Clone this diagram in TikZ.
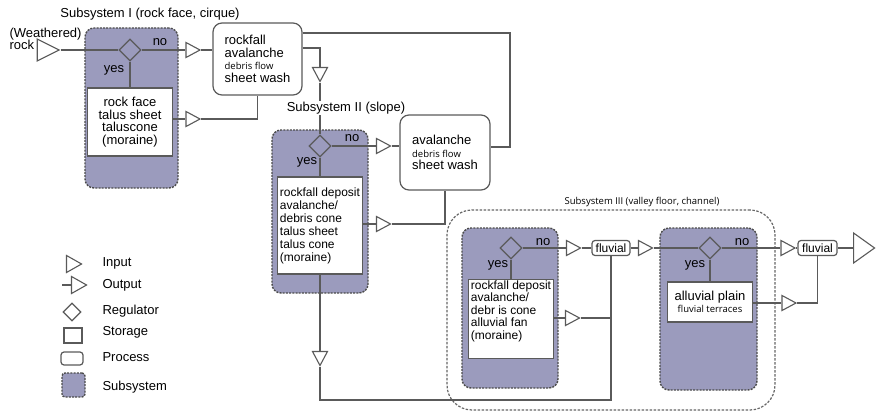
\documentclass[tikz,border=0pt]{standalone}
\usepackage{fontspec}
\setmainfont{Liberation Sans}
\newfontfamily\opensans{Open Sans}
\newcommand\minorfont{\opensans\fontsize{9.5}{11}\selectfont}
\usetikzlibrary{shapes.geometric}
\definecolor{subfill}{RGB}{155,155,189}
\definecolor{linegray}{RGB}{90,90,90}

\begin{document}
\begin{tikzpicture}[x=1pt, y=-1pt,
  font=\fontsize{13}{12.5}\selectfont,
  conn/.style={draw=linegray, line width=1.3pt},
  subsys/.style={draw=black!70, fill=subfill, dash pattern=on 2pt off 1.2pt, line width=1.4pt, rounded corners=9pt, inner sep=0},
  outer/.style={draw=black!60, dash pattern=on 2.5pt off 1.5pt, line width=1.2pt, rounded corners=25pt, inner sep=0},
  storage/.style={draw=linegray, fill=white, line width=1.2pt, inner sep=1pt},
  process/.style={draw=linegray, fill=white, line width=1.2pt, rounded corners=9pt, inner sep=2pt},
  regulator/.style={diamond, draw=linegray, line width=1.2pt, minimum width=22, minimum height=22, inner sep=0},
  port/.style={isosceles triangle, isosceles triangle stretches, draw=linegray, fill=white, line width=1.1pt, inner sep=0, minimum width=15, minimum height=14}
]
\useasboundingbox (0,0) rectangle (876,412);

\node[subsys, minimum width=93, minimum height=160] (sub1) at (131.5,108) {};
\node[subsys, minimum width=96, minimum height=163] (sub2) at (320,211.5) {};
\node[outer, minimum width=328, minimum height=200] (sub3) at (611,310) {};
\node[subsys, minimum width=96, minimum height=160] (sub3a) at (510,308) {};
\node[subsys, minimum width=97, minimum height=162] (sub3b) at (708.5,309) {};

\node (title1) at (150,14) {Subsystem I (rock face, cirque)};
\node[fill=white, inner sep=1pt] (title2) at (346,108) {Subsystem II (slope)};
\node[font=\minorfont] (title3) at (642,202) {Subsystem III (valley floor, channel)};

% subsystem I
\node[align=left, anchor=west] (rocklbl) at (6,39) {(Weathered)\\rock};
\node[port, minimum width=22, minimum height=22] (in1) at (44,50) {};
\node[regulator] (reg1) at (130,50) {};
\node[port] (out1a) at (190.5,50) {};
\node[process, minimum width=89, minimum height=72, align=left] (proc1) at (257.5,59)
  {rockfall\\avalanche\\{\minorfont debris flow}\\sheet wash};
\node[storage, minimum width=85, minimum height=68, align=center] (stor1) at (130,122)
  {rock face\\talus sheet\\taluscone\\(moraine)};
\node[port] (out1b) at (190.5,119) {};
\node (no1) at (160,42) {no};
\node (yes1) at (114,70) {yes};
\node[port, rotate=-90] (in2) at (320,72) {};
\coordinate (bend1) at (510,33);
\coordinate (bend2) at (510,147);
\coordinate (bend3) at (320,48);

% subsystem II
\node[regulator] (reg2) at (320,146) {};
\node[port] (out2a) at (381,146) {};
\node[process, minimum width=90, minimum height=75, align=left] (proc2) at (445,152.5)
  {avalanche\\{\minorfont debris flow}\\sheet wash};
\node[storage, minimum width=85, minimum height=97, align=left, font=\fontsize{12}{13}\selectfont] (stor2) at (320,225.5)
  {rockfall deposit\\avalanche/\\debris cone\\talus sheet\\talus cone\\(moraine)};
\node[port] (out2b) at (381,224) {};
\node[port, rotate=-90] (in3) at (320,356) {};
\node (no2) at (352,138) {no};
\node (yes2) at (307,162) {yes};
\coordinate (bend4) at (611,400);

% subsystem III
\node[regulator] (reg3) at (511,248) {};
\node[port] (out3a) at (571,248) {};
\node[process, minimum width=38, minimum height=15, inner sep=1pt, rounded corners=3pt, font=\fontsize{12}{12}\selectfont] (fluv1) at (611,248) {fluvial};
\node[storage, minimum width=85, text depth=18pt, align=left, anchor=north, font=\fontsize{12}{12.5}\selectfont] (stor3) at (511,279)
  {rockfall deposit\\avalanche/\\debr is cone\\alluvial fan\\(moraine)};
\node[port] (out3b) at (570,318) {};
\node (no3) at (543,242) {no};
\node (yes3) at (498,265) {yes};

\node[port] (out4a) at (643,248) {};
\node[regulator] (reg4) at (710,248) {};
\node[storage, minimum width=85, minimum height=40, align=center] (stor4) at (710,302)
  {alluvial plain\\{\minorfont fluvial terraces}};
\node[port] (out4b) at (785.5,248) {};
\node[process, minimum width=39, minimum height=15, inner sep=1pt, rounded corners=3pt, font=\fontsize{12}{12}\selectfont] (fluv2) at (817.5,248) {fluvial};
\node[port] (out4c) at (786.5,303) {};
\node[port, minimum width=30, minimum height=21, anchor=west] (out5) at (853,248) {};
\node (no4) at (742,242) {no};
\node (yes4) at (695,265) {yes};

% legend
\node[port, minimum width=17, minimum height=15] (leginp) at (71.5,264) {};
\node[port, minimum width=17, minimum height=15] (legout) at (76.5,285) {};
\coordinate (legstub) at (62,285);
\node[regulator, minimum width=18, minimum height=18] (legreg) at (72,312) {};
\node[storage, minimum width=18, minimum height=15] (legsto) at (73,335.5) {};
\node[process, minimum width=22, minimum height=13, rounded corners=3pt] (legpro) at (72,358.5) {};
\node[subsys, minimum width=23, minimum height=24, rounded corners=3pt] (legsub) at (73.5,385) {};
\node[anchor=west] (txtinp) at (99,263) {Input};
\node[anchor=west] (txtout) at (99,285) {Output};
\node[anchor=west] (txtreg) at (99,311) {Regulator};
\node[anchor=west] (txtsto) at (99,332) {Storage};
\node[anchor=west] (txtpro) at (99,357) {Process};
\node[anchor=west] (txtsub) at (99,387) {Subsystem};

\draw[conn] (in1.east) -- (reg1.west);
\draw[conn] (reg1.east) -- (out1a.west);
\draw[conn] (out1a.east) -- (proc1.west |- out1a.east);
\draw[conn] (reg1.south) -- (stor1.north);
\draw[conn] (stor1.east |- out1b.west) -- (out1b.west);
\draw[conn] (out1b.east) -| (proc1.south);
\draw[conn] (proc1.east |- bend1) -- (bend1) -- (bend2) -- (proc2.east |- bend2);
\draw[conn] (proc1.east |- bend3) -- (bend3) -- (in2);
\draw[conn] (in2) -- (in2 |- title2.north);
\draw[conn] (title2.south -| reg2.north) -- (reg2.north);

\draw[conn] (reg2.east) -- (out2a.west);
\draw[conn] (out2a.east) -- (proc2.west |- out2a.east);
\draw[conn] (reg2.south) -- (stor2.north);
\draw[conn] (stor2.east |- out2b.west) -- (out2b.west);
\draw[conn] (out2b.east) -| (proc2.south);
\draw[conn] (stor2.south) -- (in3);
\draw[conn] (in3) |- (bend4) -- (fluv1.south);

\draw[conn] (reg3.east) -- (out3a.west);
\draw[conn] (out3a.east) -- (fluv1.west);
\draw[conn] (reg3.south) -- (stor3.north);
\draw[conn] (stor3.east |- out3b.west) -- (out3b.west);
\draw[conn] (out3b.east) -- (out3b.east -| fluv1.south);
\draw[conn] (fluv1.east) -- (out4a.west);
\draw[conn] (out4a.east) -- (reg4.west);
\draw[conn] (reg4.east) -- (out4b.west);
\draw[conn] (out4b.east) -- (fluv2.west);
\draw[conn] (reg4.south) -- (stor4.north);
\draw[conn] (stor4.east |- out4c.west) -- (out4c.west);
\draw[conn] (out4c.east) -| (fluv2.south);
\draw[conn] (fluv2.east) -- (out5.west);
\draw[conn] (legstub) -- (legout.west);
\end{tikzpicture}
\end{document}
